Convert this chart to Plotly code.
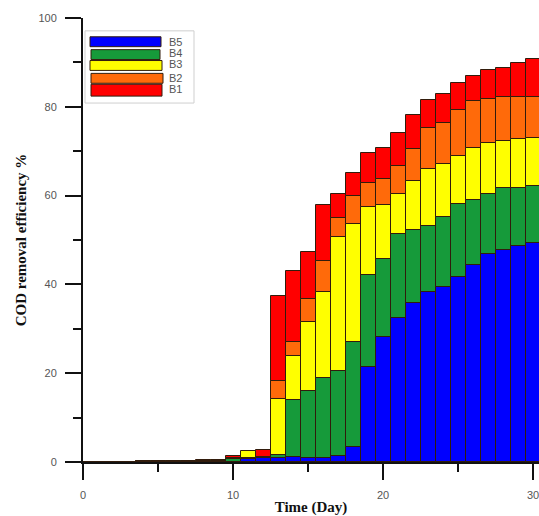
import plotly.graph_objects as go

days = list(range(0, 31))

# COD removal efficiency (%) per reactor (overlaid bars)
B1 = [0, 0.05, 0.08, 0.1, 0.15, 0.2, 0.25, 0.3, 0.35, 0.45,
      1.3, 2.2, 2.7, 37.4, 43.0, 47.2, 57.8, 60.4, 65.0, 69.7,
      70.8, 74.2, 78.2, 81.6, 82.9, 85.4, 86.9, 88.2, 88.8, 89.8, 90.8]
B2 = [0, 0.04, 0.07, 0.09, 0.13, 0.18, 0.22, 0.27, 0.3, 0.4,
      1.0, 2.0, 1.2, 18.3, 27.0, 36.7, 45.3, 55.0, 59.8, 62.8,
      63.8, 66.7, 70.4, 75.3, 76.4, 79.3, 81.2, 81.7, 82.1, 82.1, 82.1]
B3 = [0, 0.03, 0.06, 0.08, 0.12, 0.16, 0.2, 0.24, 0.28, 0.35,
      0.8, 2.4, 1.0, 14.2, 23.8, 31.5, 38.3, 50.7, 53.6, 57.5,
      57.8, 60.4, 63.2, 66.0, 67.1, 68.9, 70.8, 71.9, 72.3, 72.7, 73.0]
B4 = [0, 0.02, 0.05, 0.07, 0.1, 0.14, 0.18, 0.2, 0.25, 0.3,
      0.7, 0.8, 0.9, 1.6, 14.0, 15.9, 18.9, 20.5, 27.1, 42.1,
      45.7, 51.4, 52.3, 53.2, 55.2, 58.0, 59.0, 60.4, 61.7, 61.7, 62.2]
B5 = [0, 0.01, 0.02, 0.03, 0.05, 0.06, 0.08, 0.1, 0.1, 0.1,
      0.1, 0.7, 0.8, 1.0, 1.2, 1.0, 1.0, 1.3, 3.4, 21.3,
      28.1, 32.4, 35.9, 38.3, 39.4, 41.6, 44.3, 46.8, 47.7, 48.6, 49.4]

series_names = ["B1", "B2", "B3", "B4", "B5"]
series_vals = [B1, B2, B3, B4, B5]
colors = {"B1": "#FF0000", "B2": "#FF6A0A", "B3": "#FFFF00",
          "B4": "#169A3A", "B5": "#0000FF"}
outline = "rgb(50,28,12)"

fig = go.Figure()
for name, vals in zip(series_names, series_vals):
    fig.add_trace(go.Bar(x=days, y=vals, name=name, width=1,
                         marker=dict(color=colors[name],
                                     line=dict(color=outline, width=1)),
                         showlegend=False))

# plot area in pixels: x 83..539, y 18..467
L, R, T, B = 83, 539, 18, 467
def px(x):
    return (x - L) / (R - L)
def py(y):
    return (B - y) / (B - T)

shapes = []
annotations = []
# custom legend box
shapes.append(dict(type="rect", xref="paper", yref="paper",
                   x0=px(85), x1=px(194), y0=py(104), y1=py(31),
                   line=dict(color="#cfcfcf", width=1), fillcolor="white",
                   layer="above"))
leg = [("B5", 37, 47, 90, 161, 42),
       ("B4", 50, 60, 91, 160, 53),
       ("B3", 61, 71, 90, 162, 65),
       ("B2", 74, 84, 91, 163, 79),
       ("B1", 85, 97, 91, 162, 90)]
for name, y0, y1, x0, x1, ty in leg:
    shapes.append(dict(type="rect", xref="paper", yref="paper",
                       x0=px(x0), x1=px(x1), y0=py(y1), y1=py(y0),
                       line=dict(color=outline, width=1),
                       fillcolor=colors[name], layer="above"))
    annotations.append(dict(xref="paper", yref="paper", x=px(167), y=py(ty),
                            text=name, showarrow=False, xanchor="left",
                            yanchor="middle",
                            font=dict(family="Arial", size=11, color="#555")))

fig.update_layout(
    width=539, height=516,
    margin=dict(l=L, r=539 - R, t=T, b=516 - B),
    barmode="overlay",
    bargap=0,
    plot_bgcolor="white", paper_bgcolor="white",
    shapes=shapes, annotations=annotations,
    xaxis=dict(range=[0, 30.4], tickmode="linear", tick0=0, dtick=10,
               ticks="outside", ticklen=16, tickwidth=2, tickcolor="#111",
               showline=True, linecolor="#111", linewidth=2,
               showgrid=False, zeroline=False,
               ticklabeloverflow="allow",
               minor=dict(ticks="outside", ticklen=8, dtick=5, tickwidth=2,
                          tickcolor="#111", showgrid=False),
               tickfont=dict(family="Arial", size=11, color="#555"),
               ticklabelstandoff=6,
               title=dict(text="<b>Time (Day)</b>", standoff=4,
                          font=dict(family="Liberation Serif", size=15,
                                    color="#111"))),
    yaxis=dict(range=[0, 100], tickmode="linear", tick0=0, dtick=20,
               ticks="outside", ticklen=16, tickwidth=2, tickcolor="#111",
               showline=True, linecolor="#111", linewidth=2,
               showgrid=False, zeroline=False,
               ticklabeloverflow="allow",
               minor=dict(ticks="outside", ticklen=8, dtick=10, tickwidth=2,
                          tickcolor="#111", showgrid=False),
               tickfont=dict(family="Arial", size=11, color="#555"),
               ticklabelstandoff=6,
               title=dict(text="<b>COD removal efficiency %</b>", standoff=8,
                          font=dict(family="Liberation Serif", size=15,
                                    color="#111"))),
)

fig.write_html("out.html")
